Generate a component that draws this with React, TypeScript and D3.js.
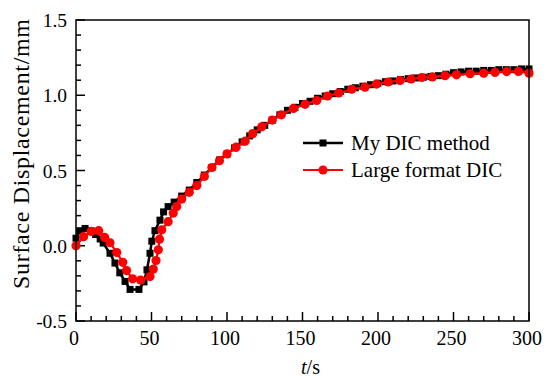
import React, { useRef, useEffect } from "react";
import * as d3 from "d3";

// My DIC method (t in s, displacement in mm)
const blackT = [0, 2.5, 6, 10, 13, 16, 18, 22.5, 25.8, 29, 32.5, 35.8, 41.7, 45, 47, 49, 50.2, 52.3, 55.6, 58, 61, 65, 70, 75, 80, 85, 90, 95, 100, 105, 110, 115, 120, 125, 130, 135, 140, 145, 150, 155, 160, 165, 170, 175, 180, 185, 190, 195, 200, 205, 210, 215, 220, 225, 230, 235, 240, 245, 250, 255, 260, 265, 270, 275, 280, 285, 290, 295, 300];
const blackV = [0.05, 0.1, 0.115, 0.1, 0.075, 0.045, 0.018, -0.05, -0.115, -0.18, -0.237, -0.29, -0.29, -0.24, -0.16, -0.05, 0.03, 0.1, 0.17, 0.225, 0.26, 0.29, 0.33, 0.37, 0.42, 0.47, 0.52, 0.57, 0.61, 0.65, 0.69, 0.73, 0.77, 0.8, 0.835, 0.87, 0.9, 0.92, 0.945, 0.96, 0.98, 0.995, 1.01, 1.025, 1.04, 1.05, 1.06, 1.07, 1.08, 1.09, 1.095, 1.105, 1.11, 1.115, 1.12, 1.125, 1.13, 1.14, 1.15, 1.155, 1.16, 1.16, 1.165, 1.165, 1.17, 1.17, 1.17, 1.175, 1.175];

// Large format DIC
const redT = [0, 5, 10, 15, 19, 22.5, 27, 31, 33.5, 37.5, 42.8, 49, 51.2, 53, 54.5, 55.3, 56.8, 61, 64.4, 66.7, 70, 75, 80, 85, 90, 95, 100, 106, 112, 117, 123, 130, 136, 144, 151.7, 159.4, 166.6, 174, 182.6, 191.4, 199, 206.8, 214.6, 222, 229, 236, 244.4, 252, 261, 270, 277.5, 285.2, 293, 300];
const redV = [0, 0.06, 0.095, 0.1, 0.055, 0.02, -0.045, -0.11, -0.165, -0.22, -0.228, -0.205, -0.155, -0.098, -0.027, 0.044, 0.106, 0.16, 0.217, 0.26, 0.31, 0.355, 0.4, 0.46, 0.52, 0.565, 0.61, 0.655, 0.695, 0.745, 0.79, 0.835, 0.87, 0.912, 0.94, 0.965, 0.995, 1.015, 1.04, 1.054, 1.074, 1.088, 1.098, 1.108, 1.118, 1.122, 1.13, 1.136, 1.143, 1.147, 1.152, 1.157, 1.158, 1.147];

const xTicks = [0, 50, 100, 150, 200, 250, 300];
const yTicks = [-0.5, 0, 0.5, 1.0, 1.5];
const seriesNames = ["My DIC method", "Large format DIC"];

const FONT = '"Nimbus Roman", Tinos, "Times New Roman", Times, "DejaVu Serif", serif';

const App = () => {
  const ref = useRef<SVGSVGElement>(null);

  useEffect(() => {
    const svg = d3.select(ref.current);
    svg.selectAll("*").remove();

    const left = 76, right = 529, top = 20, bottom = 321;
    const x = d3.scaleLinear().domain([0, 300]).range([left, right]);
    const y = d3.scaleLinear().domain([-0.5, 1.5]).range([bottom, top]);

    // ticks, pointing inward
    const g = svg.append("g");
    d3.range(0, 301, 10).forEach((t) => {
      const major = t % 50 === 0;
      g.append("line")
        .attr("x1", x(t)).attr("x2", x(t))
        .attr("y1", bottom).attr("y2", bottom - (major ? 9 : 5))
        .attr("stroke", "#000").attr("stroke-width", 1.5);
    });
    d3.range(-5, 16, 1).forEach((k) => {
      const major = k % 5 === 0;
      g.append("line")
        .attr("x1", left).attr("x2", left + (major ? 9 : 5))
        .attr("y1", y(k / 10)).attr("y2", y(k / 10))
        .attr("stroke", "#000").attr("stroke-width", 1.5);
    });

    xTicks.forEach((t) => {
      svg.append("text")
        .attr("x", x(t) - 2).attr("y", 345)
        .attr("text-anchor", "middle")
        .style("font-family", FONT).style("font-size", "20px")
        .text(t);
    });
    yTicks.forEach((v) => {
      svg.append("text")
        .attr("x", left - 9).attr("y", y(v) + 7)
        .attr("text-anchor", "end")
        .style("font-family", FONT).style("font-size", "19.5px")
        .text(v.toFixed(1));
    });

    // axis titles
    const xt = svg.append("text")
      .attr("x", x(150) + 8).attr("y", 374)
      .attr("text-anchor", "middle")
      .style("font-family", FONT).style("font-size", "20px");
    xt.append("tspan").style("font-style", "italic").text("t");
    xt.append("tspan").text("/s");

    svg.append("text")
      .attr("transform", `translate(29,154) rotate(-90)`)
      .attr("text-anchor", "middle")
      .attr("textLength", 270)
      .style("font-family", FONT).style("font-size", "24px")
      .text("Surface Displacement/mm");

    const line = d3.line<[number, number]>()
      .x((d) => x(d[0]))
      .y((d) => y(d[1]));

    const black: [number, number][] = blackT.map((t, i) => [t, blackV[i]]);
    const red: [number, number][] = redT.map((t, i) => [t, redV[i]]);

    svg.append("path").datum(black)
      .attr("d", line).attr("fill", "none")
      .attr("stroke", "#000").attr("stroke-width", 2.5);
    svg.selectAll(".sq").data(black).enter().append("rect")
      .attr("class", "sq")
      .attr("x", (d) => x(d[0]) - 3.5).attr("y", (d) => y(d[1]) - 3.5)
      .attr("width", 7).attr("height", 7).attr("fill", "#000");

    svg.append("path").datum(red)
      .attr("d", line).attr("fill", "none")
      .attr("stroke", "#ff0000").attr("stroke-width", 2.2);
    svg.selectAll(".ci").data(red).enter().append("circle")
      .attr("class", "ci")
      .attr("cx", (d) => x(d[0])).attr("cy", (d) => y(d[1]))
      .attr("r", 4.6).attr("fill", "#ff0000");

    // frame
    svg.append("rect")
      .attr("x", left).attr("y", top)
      .attr("width", right - left).attr("height", bottom - top)
      .attr("fill", "none").attr("stroke", "#000").attr("stroke-width", 1.5);

    // legend
    const lg = svg.append("g");
    const rows = [143, 170];
    lg.append("line").attr("x1", 303).attr("x2", 343).attr("y1", rows[0]).attr("y2", rows[0])
      .attr("stroke", "#000").attr("stroke-width", 2.5);
    lg.append("rect").attr("x", 319.5).attr("y", rows[0] - 3.5).attr("width", 7).attr("height", 7).attr("fill", "#000");
    lg.append("line").attr("x1", 303).attr("x2", 343).attr("y1", rows[1]).attr("y2", rows[1])
      .attr("stroke", "#ff0000").attr("stroke-width", 2.2);
    lg.append("circle").attr("cx", 323).attr("cy", rows[1]).attr("r", 4.6).attr("fill", "#ff0000");
    seriesNames.forEach((name, i) => {
      lg.append("text")
        .attr("x", 351).attr("y", rows[i] + 7)
        .style("font-family", FONT).style("font-size", "21px")
        .text(name);
    });
  }, []);

  return (
    <svg
      ref={ref}
      width={548}
      height={378}
      style={{ position: "absolute", left: 0, top: 0, background: "#fff" }}
    />
  );
};

export default App;
